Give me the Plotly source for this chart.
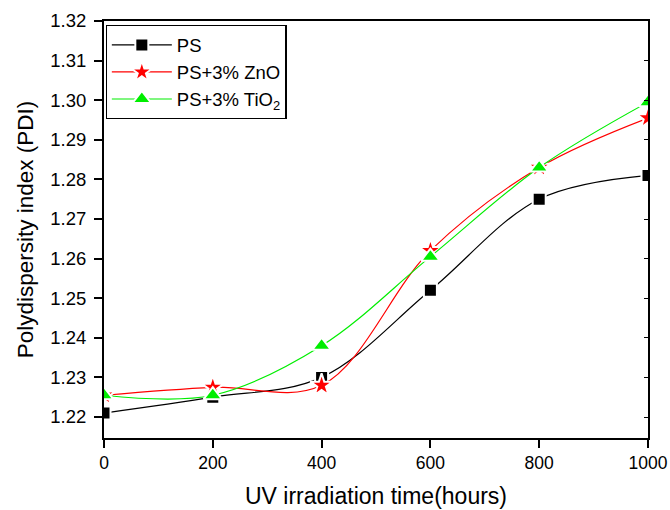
import plotly.graph_objects as go

time_h = [0, 200, 400, 600, 800, 1000]
ps = [1.221, 1.225, 1.230, 1.252, 1.275, 1.281]
ps_zno = [1.2255, 1.2275, 1.228, 1.262, 1.283, 1.2955]
ps_tio2 = [1.2255, 1.2255, 1.238, 1.2605, 1.283, 1.2995]

names = ["PS", "PS+3% ZnO", "PS+3% TiO<sub>2</sub>"]
colors = ["#000000", "#ff0000", "#00ee00"]
symbols = ["square", "star", "triangle-up"]
sizes = [13, 17, 16]

fig = go.Figure()
for ys, nm, c, s, sz in zip([ps, ps_zno, ps_tio2], names, colors, symbols, sizes):
    fig.add_trace(go.Scatter(
        x=time_h, y=ys, name=nm, mode="lines+markers",
        line=dict(color=c, width=1.2, shape="spline", smoothing=1.0),
        marker=dict(symbol=s, size=sz, color=c, line=dict(color="white", width=2)),
    ))

# invisible trace for right axis with inside ticks
fig.add_trace(go.Scatter(x=[None], y=[None], yaxis="y2", showlegend=False, hoverinfo="skip"))

font_family = "Liberation Sans, Arial, sans-serif"
fig.update_layout(
    width=670, height=510,
    margin=dict(l=104, r=22, t=21, b=72),
    paper_bgcolor="white", plot_bgcolor="white",
    font=dict(family=font_family, color="black", size=18),
    showlegend=True,
    legend=dict(
        x=0.003, y=0.99, xanchor="left", yanchor="top",
        bordercolor="black", borderwidth=1.2, bgcolor="white",
        font=dict(size=18.5, family=font_family),
        tracegroupgap=0, itemwidth=60,
    ),
    xaxis=dict(
        range=[0, 1000], tick0=0, dtick=200, automargin=False,
        showline=True, linecolor="black", linewidth=2, mirror=True,
        ticks="outside", ticklen=8, tickwidth=2, tickcolor="black",
        showgrid=False, zeroline=False,
        title=dict(text="UV irradiation time(hours)", font=dict(size=23), standoff=16),
        tickfont=dict(size=17.5),
    ),
    yaxis=dict(
        range=[1.2147, 1.32], tick0=1.22, dtick=0.01, tickformat=".2f", automargin=False,
        showline=True, linecolor="black", linewidth=2, mirror=True,
        ticks="outside", ticklen=8, tickwidth=2, tickcolor="black",
        ticklabelstandoff=4,
        showgrid=False, zeroline=False,
        title=dict(text="Polydispersity index (PDI)", font=dict(size=22.5), standoff=10),
        tickfont=dict(size=18.5),
    ),
    yaxis2=dict(
        overlaying="y", side="right", matches="y", automargin=False,
        range=[1.2147, 1.32], tick0=1.22, dtick=0.01,
        ticks="inside", ticklen=4, tickwidth=1, tickcolor="black",
        showticklabels=False, showgrid=False, zeroline=False, showline=False,
    ),
)

fig.write_html("out.html")
